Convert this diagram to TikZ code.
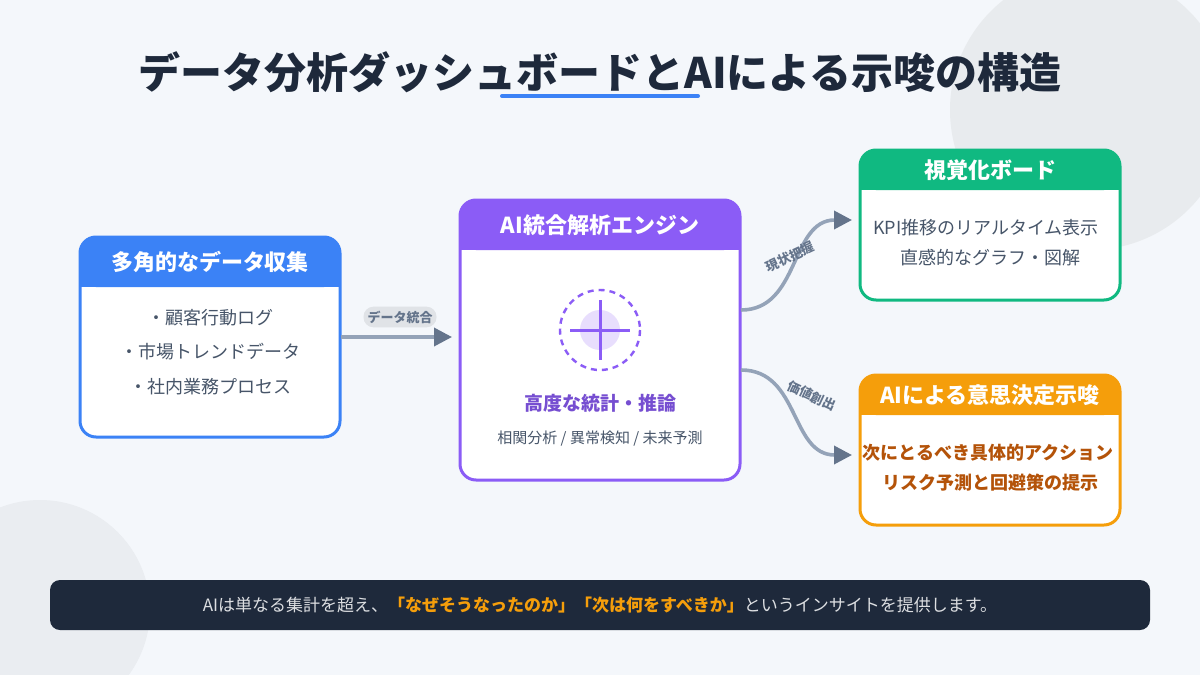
\documentclass[tikz,border=0pt]{standalone}
\usepackage{fontspec}
\setmainfont{Noto Sans CJK JP}
\usetikzlibrary{arrows.meta,positioning}
\definecolor{bgc}{HTML}{F4F7FB}
\definecolor{ink}{HTML}{1E293B}
\definecolor{txt}{HTML}{475569}
\definecolor{blu}{HTML}{3B82F6}
\definecolor{pur}{HTML}{8B5CF6}
\definecolor{grn}{HTML}{10B981}
\definecolor{org}{HTML}{F59E0B}
\definecolor{brn}{HTML}{B45309}
\definecolor{lnk}{HTML}{94A3B8}
\definecolor{tip}{HTML}{64748B}
\tikzset{
  card/.style={draw=#1,line width=1.5pt,fill=white,rounded corners=8pt},
  head/.style={text=white,font=\bfseries\fontsize{11}{13}\selectfont},
  item/.style={text=txt,font=\fontsize{9}{11}\selectfont},
  link/.style={draw=lnk,line width=1.8pt,-{Triangle[length=9pt,width=9pt,fill=tip,color=tip]}},
  tag/.style={text=tip,font=\bfseries\fontsize{6.5}{8}\selectfont}
}
\begin{document}
\begin{tikzpicture}[x=0.5pt,y=-0.5pt]
\useasboundingbox (0,0) rectangle (1200,675);
\fill[bgc] (0,0) rectangle (1200,675);
\begin{scope}
\clip (0,0) rectangle (1200,675);
\fill[black!5!bgc] (1090,110) circle (140);
\fill[black!4!bgc] (40,610) circle (110);
\end{scope}

% title
\node (title) at (600,72) {\bfseries\fontsize{21}{25}\selectfont\color{ink}データ分析ダッシュボードとAIによる示唆の構造};
\draw[blu,line width=2pt,line cap=round] (502,96) -- (698,96);

% left card
\draw[card=blu] (80,237) rectangle (340,437);
\fill[blu,rounded corners=8pt] (80,237) rectangle (340,287);
\fill[blu] (80,270) rectangle (340,287);
\node[head] (srchead) at (210,262) {多角的なデータ収集};
\node[item] (src1) at (210,318) {・顧客行動ログ};
\node[item] (src2) at (210,352) {・市場トレンドデータ};
\node[item] (src3) at (210,387) {・社内業務プロセス};
\coordinate (srcout) at (341,337);

% center card
\draw[card=pur] (460,200) rectangle (740,480);
\fill[pur,rounded corners=8pt] (460,200) rectangle (740,250);
\fill[pur] (460,235) rectangle (740,250);
\node[head] (aihead) at (600,225) {AI統合解析エンジン};
\fill[pur!20] (600,330) circle (20);
\draw[pur,line width=1.2pt,dash pattern=on 3pt off 2.5pt] (600,330) circle (40);
\draw[pur,line width=1.5pt] (570,330) -- (630,330) (600,300) -- (600,360);
\node[text=pur!85!black,font=\bfseries\fontsize{9.5}{11}\selectfont] (aimain) at (600,403) {高度な統計・推論};
\node[item,font=\fontsize{7.5}{9}\selectfont] (aisub) at (600,439) {相関分析 / 異常検知 / 未来予測};
\coordinate (aiin) at (452,337);
\coordinate (aiout1) at (741,310);
\coordinate (aiout2) at (741,370);

% right cards
\draw[card=grn] (860,150) rectangle (1120,300);
\fill[grn,rounded corners=8pt] (860,150) rectangle (1120,190);
\fill[grn] (860,178) rectangle (1120,190);
\node[head] (vishead) at (990,170) {視覚化ボード};
\node[item] (vis1) at (986,228) {KPI推移のリアルタイム表示};
\node[item] (vis2) at (990,258) {直感的なグラフ・図解};
\coordinate (visin) at (852,220);

\draw[card=org] (860,375) rectangle (1120,525);
\fill[org,rounded corners=8pt] (860,375) rectangle (1120,415);
\fill[org] (860,403) rectangle (1120,415);
\node[head] (acthead) at (990,395) {AIによる意思決定示唆};
\node[text=brn,font=\bfseries\fontsize{9}{11}\selectfont] (act1) at (988,453) {次にとるべき具体的アクション};
\node[text=brn,font=\bfseries\fontsize{9}{11}\selectfont] (act2) at (990,483) {リスク予測と回避策の提示};
\coordinate (actin) at (852,455);

% connectors
\draw[link] (srcout) -- (aiin);
\node[fill=black!8!bgc,rounded corners=5pt,inner sep=2pt,tag] (tag1) at (400,317) {データ統合};
\draw[link] (aiout1) .. controls (800,310) and (790,220) .. (visin);
\draw[link] (aiout2) .. controls (800,370) and (790,455) .. (actin);
\node[tag,rotate=25] (tag2) at (790,257) {現状把握};
\node[tag,rotate=-25] (tag3) at (812,396) {価値創出};

% banner
\fill[ink,rounded corners=5pt] (50,580) rectangle (1150,630);
\node[font=\fontsize{8.5}{10}\selectfont,text=white!85!ink] (note) at (600,605) {AIは単なる集計を超え、\textcolor{org}{\bfseries「なぜそうなったのか」「次は何をすべきか」}というインサイトを提供します。};
\end{tikzpicture}
\end{document}
